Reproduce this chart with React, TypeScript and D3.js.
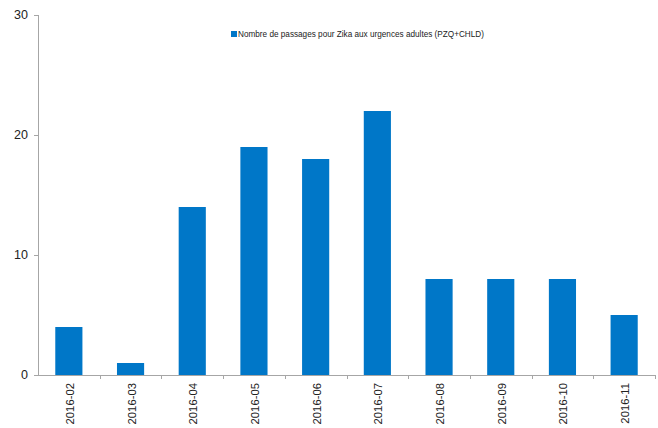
import React from "react";
import * as d3 from "d3";

const categories = ["2016-02","2016-03","2016-04","2016-05","2016-06","2016-07","2016-08","2016-09","2016-10","2016-11"];
const values = [4, 1, 14, 19, 18, 22, 8, 8, 8, 5];
const yTicks = [0, 10, 20, 30];
const seriesName = "Nombre de passages pour Zika aux urgences adultes (PZQ+CHLD)";

export default function App() {
  const W = 658, H = 428;
  const left = 38, right = 655, top = 15, bottom = 375;
  const x = d3.scaleBand<string>().domain(categories).range([left, right]).paddingInner(0.56).paddingOuter(0.28);
  const band = d3.scaleBand<string>().domain(categories).range([left, right]);
  const y = d3.scaleLinear().domain([0, 30]).range([bottom, top]);
  const axisColor = "#a6a6a6";
  const font = "Liberation Sans, Arial, sans-serif";
  return (
    <svg width={W} height={H} style={{ position: "absolute", left: 0, top: 0 }} fontFamily={font}>
      {categories.map((c, i) => (
        <rect key={c} x={x(c)} y={y(values[i])} width={x.bandwidth()} height={bottom - y(values[i])} fill="#0077c8" />
      ))}
      <line x1={left + 0.5} x2={left + 0.5} y1={top} y2={bottom} stroke={axisColor} />
      <line x1={left} x2={right} y1={bottom + 0.5} y2={bottom + 0.5} stroke={axisColor} />
      {yTicks.map(t => (
        <g key={t}>
          <line x1={left - 4} x2={left} y1={Math.round(y(t)) + 0.5} y2={Math.round(y(t)) + 0.5} stroke={axisColor} />
          <text x={28} y={y(t)} dy="0.35em" textAnchor="end" fontSize={12.5} fill="#222">{t}</text>
        </g>
      ))}
      {categories.map(c => {
        const bx = (band(c) as number) + band.bandwidth();
        return (
          <line key={"t" + c} x1={Math.round(bx) + 0.5} x2={Math.round(bx) + 0.5} y1={bottom} y2={bottom + 4} stroke={axisColor} />
        );
      })}
      {categories.map(c => {
        const cx = (x(c) as number) + x.bandwidth() / 2;
        return (
          <text key={"l" + c} transform={`translate(${cx + 5},${383}) rotate(-90)`} textAnchor="end" fontSize={11.3} fill="#222">{c}</text>
        );
      })}
      <rect x={231} y={31} width={6} height={6} fill="#0077c8" />
      <text x={238} y={37} fontSize={8.2} fill="#222">{seriesName}</text>
    </svg>
  );
}
